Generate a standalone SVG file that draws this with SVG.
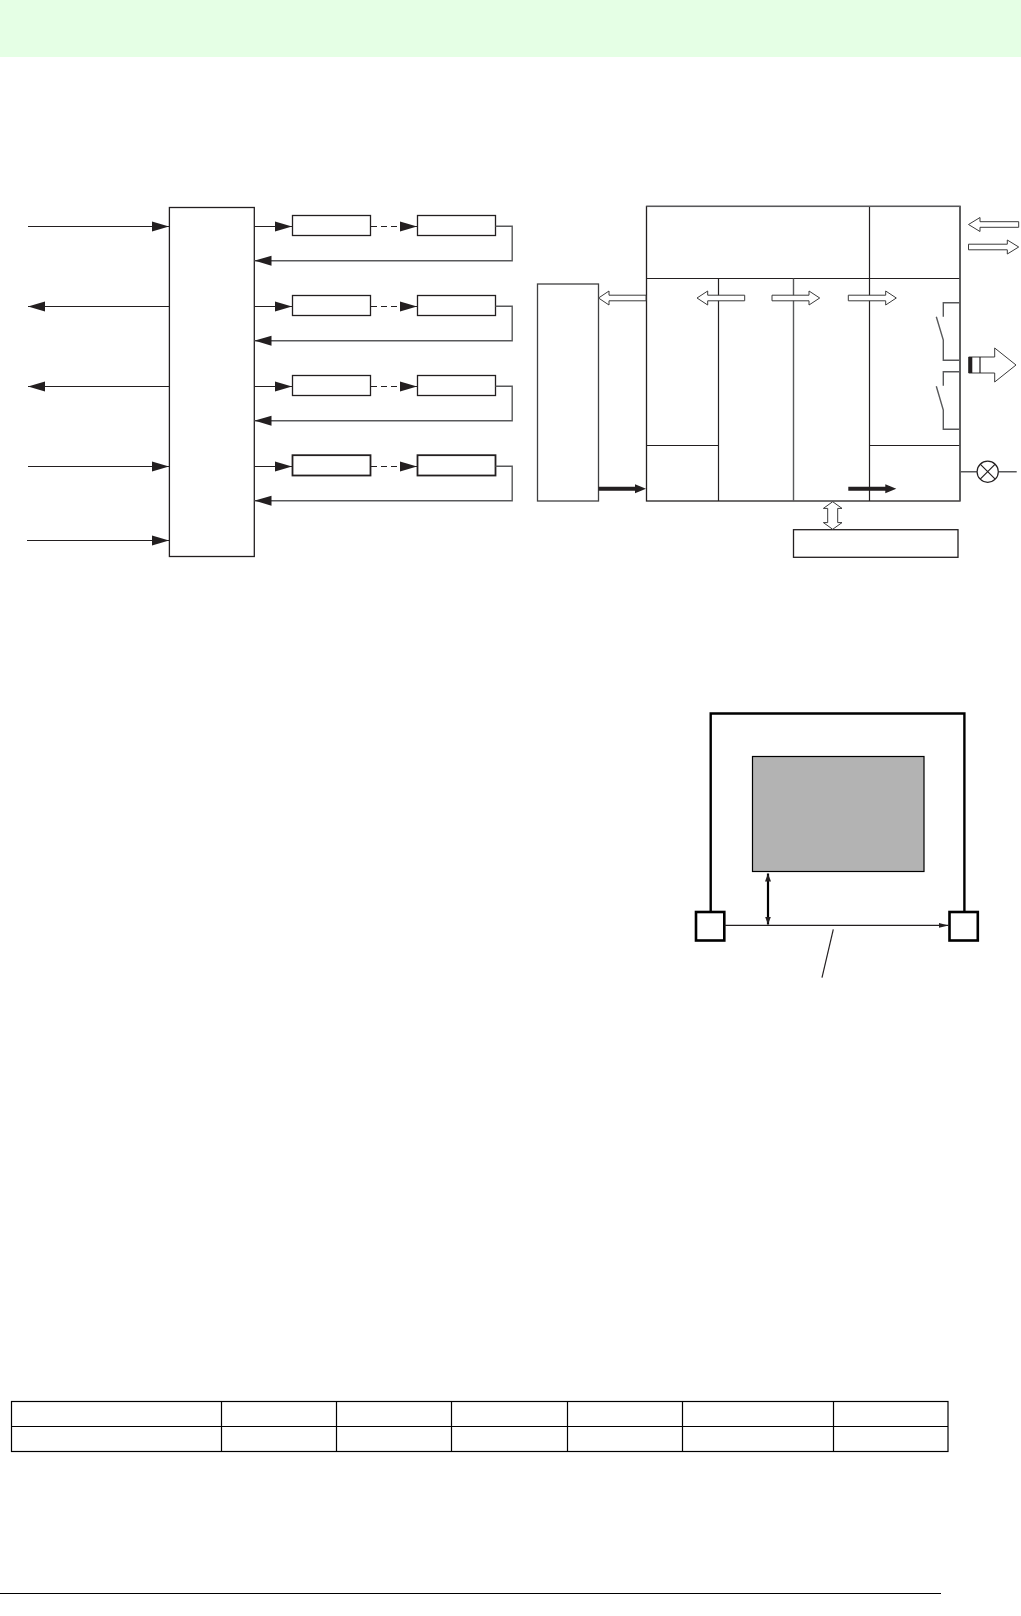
<svg xmlns="http://www.w3.org/2000/svg" width="1021" height="1616" viewBox="0 0 1021 1616">
<style>
.b{fill:#fff;stroke:#231f20;stroke-width:1.3}
.l{fill:none;stroke:#231f20;stroke-width:1.2}
.g{fill:none;stroke:#58595b;stroke-width:1.4}
.h{fill:#fff;stroke:#3a3a3a;stroke-width:1}
.k{fill:#231f20;stroke:none}
.t{fill:none;stroke:#000;stroke-width:2.4}
.tb{fill:none;stroke:#000;stroke-width:1.2}
</style>
<defs>
<marker id="ah" markerUnits="userSpaceOnUse" markerWidth="17" markerHeight="11" refX="17" refY="5.5" orient="auto-start-reverse"><path class="k" d="M0 0.5L17 5.5L0 10.5Z"/></marker>
<marker id="sm" markerUnits="userSpaceOnUse" markerWidth="10" markerHeight="6" refX="10" refY="3" orient="auto-start-reverse"><path class="k" d="M0 0.5L10 3L0 5.5Z"/></marker>
<marker id="dbl" markerUnits="userSpaceOnUse" markerWidth="8" markerHeight="7" refX="8" refY="3.5" orient="auto-start-reverse"><path class="k" d="M0 0.5L8 3.5L0 6.5Z"/></marker>
</defs>
<rect id="header" x="0" y="0" width="1021" height="57" fill="#e5ffe5"/>

<g id="controller"><rect class="b" x="169.4" y="207.5" width="84.9" height="349"/></g>
<g id="r1a"><rect class="b" x="292.5" y="215.5" width="78" height="20"/></g>
<g id="r1b"><rect class="b" x="417.5" y="215.5" width="78" height="20"/></g>
<g id="r2a"><rect class="b" x="292.5" y="295.5" width="78" height="20"/></g>
<g id="r2b"><rect class="b" x="417.5" y="295.5" width="78" height="20"/></g>
<g id="r3a"><rect class="b" x="292.5" y="375.5" width="78" height="20"/></g>
<g id="r3b"><rect class="b" x="417.5" y="375.5" width="78" height="20"/></g>
<g id="r4a"><rect class="b" x="292.5" y="455.2" width="78" height="20.3" style="stroke-width:1.8"/></g>
<g id="r4b"><rect class="b" x="417.5" y="455.2" width="78" height="20.3" style="stroke-width:1.8"/></g>

<g id="left-box"><rect class="b" x="537.5" y="284" width="61" height="217" style="stroke:#404041"/></g>
<g id="main-block">
<rect class="b" x="646.5" y="206.4" width="313.5" height="294.6"/>
<path class="l" d="M646.5 278.5H960M869.5 206.4V501M718.5 278.5V501M646.5 445.5H718.5M869.5 445.5H960"/>
<path class="g" d="M793.5 278.5V501M646.5 206.4H960V501"/>
</g>
<g id="bottom-box"><rect class="b" x="793.5" y="529.7" width="164.5" height="27.6"/></g>
<g id="target-area"><rect x="752.5" y="756.5" width="171.5" height="115" fill="#b3b3b3" stroke="#000" stroke-width="1.2"/></g>
<g id="sq-left"><rect x="696" y="912" width="28.3" height="28.5" fill="#fff" stroke="#000" stroke-width="2.6"/></g>
<g id="sq-right"><rect x="949.5" y="912" width="28.3" height="28.5" fill="#fff" stroke="#000" stroke-width="2.6"/></g>

<g id="connectors">
<path class="l" d="M28 226.5H169" marker-end="url(#ah)"/>
<path class="l" d="M169 306.5H28" marker-end="url(#ah)"/>
<path class="l" d="M169 386.5H28" marker-end="url(#ah)"/>
<path class="l" d="M28 466.5H169" marker-end="url(#ah)"/>
<path class="l" d="M27 540.5H169" marker-end="url(#ah)"/>

<path class="l" d="M254.3 226.5H292" marker-end="url(#ah)"/>
<path class="l" d="M254.3 306.5H292" marker-end="url(#ah)"/>
<path class="l" d="M254.3 386.5H292" marker-end="url(#ah)"/>
<path class="l" d="M254.3 466.5H292" marker-end="url(#ah)"/>
<path class="l" d="M371 226.5H417" stroke-dasharray="6 4" marker-end="url(#ah)"/>
<path class="l" d="M371 306.5H417" stroke-dasharray="6 4" marker-end="url(#ah)"/>
<path class="l" d="M371 386.5H417" stroke-dasharray="6 4" marker-end="url(#ah)"/>
<path class="l" d="M371 466.5H417" stroke-dasharray="6 4" marker-end="url(#ah)"/>
<path class="g" d="M495.5 226.2H512.2V260.7H254.5" marker-end="url(#ah)"/>
<path class="g" d="M495.5 306.2H512.2V340.7H254.5" marker-end="url(#ah)"/>
<path class="g" d="M495.5 386.2H512.2V420.7H254.5" marker-end="url(#ah)"/>
<path class="g" d="M495.5 466.2H512.2V500.7H254.5" marker-end="url(#ah)"/>

<polygon class="h" points="968.5,224.5 980,217.5 980,221.7 1018.7,221.7 1018.7,227.3 980,227.3 980,231.5"/>
<polygon class="h" points="1018.7,247 1007.3,240 1007.3,244.2 968.5,244.2 968.5,249.8 1007.3,249.8 1007.3,254"/>
<polygon class="h" points="598.5,298 609,291 609,295.2 646,295.2 646,300.8 609,300.8 609,305"/>
<polygon class="h" points="697,298 707.7,291 707.7,295.2 744.7,295.2 744.7,300.8 707.7,300.8 707.7,305"/>
<polygon class="h" points="819.7,298 809,291 809,295.2 772,295.2 772,300.8 809,300.8 809,305"/>
<polygon class="h" points="896.3,298 885.7,291 885.7,295.2 848.3,295.2 848.3,300.8 885.7,300.8 885.7,305"/>
<polygon class="k" points="646,488.7 635,484.2 635,486.7 598.5,486.7 598.5,490.7 635,490.7 635,493.2"/>
<polygon class="k" points="896.3,488.7 885.3,484.2 885.3,486.7 848.3,486.7 848.3,490.7 885.3,490.7 885.3,493.2"/>
<polygon class="h" points="832.7,501.7 842,508.4 837.7,508.4 837.7,522.6 842,522.6 832.7,529.3 823.4,522.6 827.7,522.6 827.7,508.4 823.4,508.4"/>

<path class="g" d="M960 302.7H943.3V316.7M936.3 316.7L943.3 340V360.3H960M960 371.7H943.3V385.7M936.3 386.3L943.3 410V429.3H960"/>
<polygon class="h" stroke-width="1.2" points="1016,365 994.7,348 994.7,357 968.7,357 968.7,373 994.7,373 994.7,382"/>
<rect class="k" x="968.7" y="357" width="3.6" height="16"/>
<path class="l" d="M980 357V373"/>
<path class="g" d="M960 471.7H977M998.4 471.7H1016.7"/>
<circle class="l" cx="987.7" cy="471.7" r="10.6"/>
<path class="l" d="M980.2 464.2L995.2 479.2M995.2 464.2L980.2 479.2"/>

<path class="t" d="M710.7 911V713.5H964.4V911"/>
<path class="l" d="M724.5 925.4H948.5" marker-end="url(#sm)"/>
<path d="M768 873.5V924.5" fill="none" stroke="#000" stroke-width="2.2" marker-start="url(#dbl)" marker-end="url(#dbl)"/>
<path class="l" d="M833.3 929.3L822 977.7"/>
</g>

<g id="table">
<rect class="tb" x="11.5" y="1401.5" width="936.5" height="50"/>
<path class="tb" d="M11.5 1426.5H948"/>
<path class="tb" stroke-width="1" d="M221.5 1401.5V1451.5M336.5 1401.5V1451.5M451.5 1401.5V1451.5M567.5 1401.5V1451.5M682.5 1401.5V1451.5M833.5 1401.5V1451.5"/>
</g>
<path id="footer-rule" d="M0 1593.5H941" fill="none" stroke="#000" stroke-width="1"/>
</svg>
